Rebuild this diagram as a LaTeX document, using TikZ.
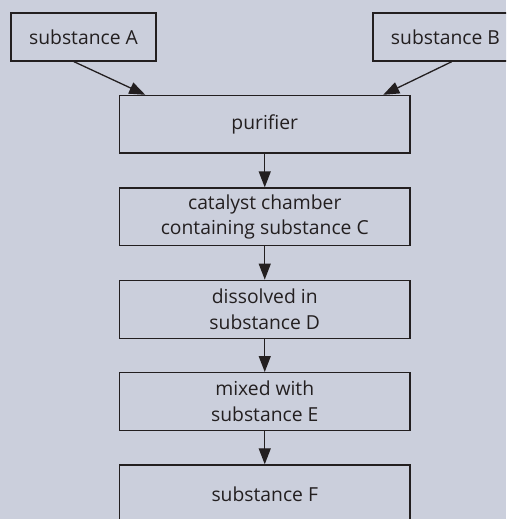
\documentclass[tikz,border=0pt]{standalone}
\usepackage{fontspec}
\setmainfont{Open Sans}
\usetikzlibrary{arrows.meta}
\definecolor{bgc}{HTML}{CBCFDC}
\definecolor{ink}{HTML}{231F20}
\begin{document}
\begin{tikzpicture}[x=1pt,y=-1pt,
  box/.style={draw=ink,line width=1.4pt,fill=bgc,rectangle,inner sep=0pt,
    align=center,text=ink,font=\fontsize{19.3}{25.7}\selectfont},
  flow/.style={draw=ink,line width=1.3pt,-{Triangle[length=16pt,width=12pt]}}]
\fill[bgc] (0,0) rectangle (506,519);
\useasboundingbox (0,0) rectangle (506,519);
\clip (0,0) rectangle (506,519);
\node[box,minimum width=145pt,minimum height=48pt] (A) at (83.5,37) {substance A};
\node[box,minimum width=145pt,minimum height=48pt] (B) at (445.5,37) {substance B};
\node[box,minimum width=290.5pt,minimum height=57.5pt] (P) at (264.75,124.25) {purifier};
\node[box,minimum width=290.5pt,minimum height=57.7pt] (C) at (264.75,216.9) {catalyst chamber\\containing substance C};
\node[box,minimum width=290.5pt,minimum height=58pt] (D) at (264.75,309.3) {dissolved in\\substance D};
\node[box,minimum width=290.5pt,minimum height=57.6pt] (E) at (264.75,401.5) {mixed with\\substance E};
\node[box,minimum width=290.5pt,minimum height=58pt] (F) at (264.75,494) {substance F};
\draw[flow] ([xshift=-9.5pt]A.south) -- ([xshift=-119.5pt]P.north);
\draw[flow] ([xshift=6.2pt]B.south) -- ([xshift=118.5pt]P.north);
\draw[flow] (P) -- (C);
\draw[flow] (C) -- (D);
\draw[flow] (D) -- (E);
\draw[flow] (E) -- (F);
\end{tikzpicture}
\end{document}
